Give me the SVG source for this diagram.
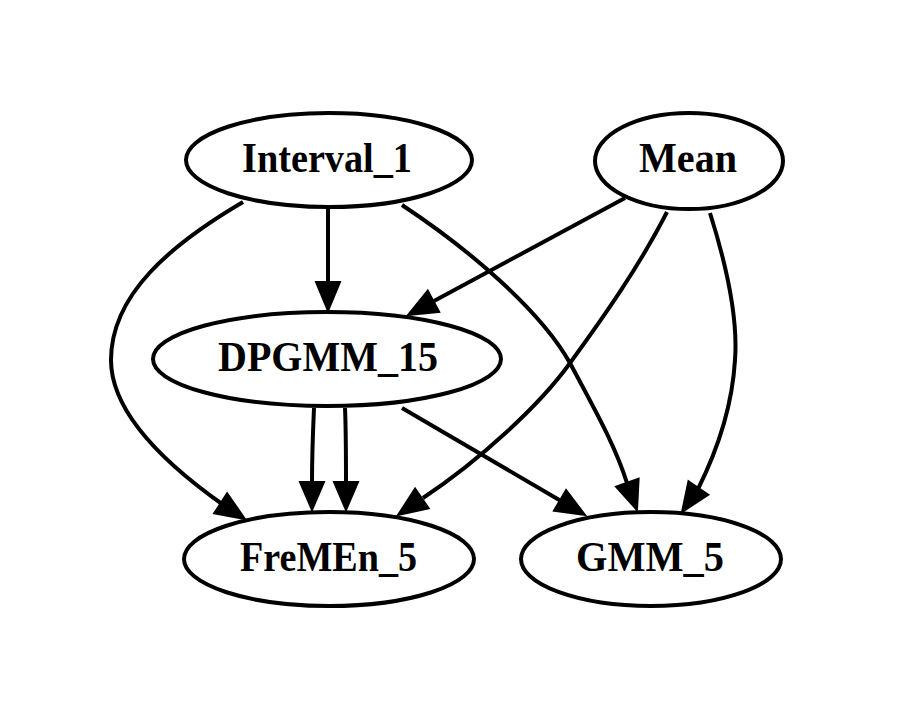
<svg xmlns="http://www.w3.org/2000/svg" width="898" height="723" viewBox="0 0 898 723">
<style>
.node ellipse{fill:#fff;stroke:#000;stroke-width:4}
.node text{font-family:"Liberation Serif","Times New Roman",serif;font-weight:bold;font-size:42px;fill:#000;text-anchor:middle}
.edge path{fill:none;stroke:#000;stroke-width:4}
.edge polygon{fill:#000;stroke:#000;stroke-width:2;stroke-linejoin:miter}
</style>
<rect width="898" height="723" fill="#fff"/>
<g id="connectors">
<g class="edge" id="e_interval_dpgmm">
<path d="M328,209 L328,283"/>
<polygon points="316,282 340,282 328,311"/>
</g>
<g class="edge" id="e_interval_fremen">
<path d="M243,202 C170,245 111,295 111,360 C111,410 160,460 222,504"/>
<polygon points="214.1,513.4 227.1,493.2 245,519"/>
</g>
<g class="edge" id="e_interval_gmm">
<path d="M402,205 C470,250 540,310 570,363 C595,410 615,445 627,483"/>
<polygon points="616,486.7 638.6,478.7 637,510"/>
</g>
<g class="edge" id="e_mean_dpgmm">
<path d="M625,198 L434,301"/>
<polygon points="427.8,290.6 439.2,311.8 408,315"/>
</g>
<g class="edge" id="e_mean_fremen">
<path d="M667,212 C640,265 605,315 570,363 C540,405 480,460 423,498"/>
<polygon points="428.7,508.4 415.1,488.6 398,515"/>
</g>
<g class="edge" id="e_mean_gmm">
<path d="M710,213 C728,270 738,320 735,360 C732,410 715,455 698,489"/>
<polygon points="688.5,481.2 708.3,494.8 682,512"/>
</g>
<g class="edge" id="e_dpgmm_fremen_1">
<path d="M314,408 C313,430 312,460 312,483"/>
<polygon points="300,482 324,482 312,510"/>
</g>
<g class="edge" id="e_dpgmm_fremen_2">
<path d="M345,408 C346,430 346,460 346,483"/>
<polygon points="334,482 358,482 346,510"/>
</g>
<g class="edge" id="e_dpgmm_gmm">
<path d="M402,408 L561,501"/>
<polygon points="553.9,510.8 566.1,490 585,515"/>
</g>
</g>
<g class="node" id="n_interval">
<ellipse cx="329" cy="160" rx="143" ry="47"/>
<text x="327" y="172" textLength="170" lengthAdjust="spacingAndGlyphs">Interval_1</text>
</g>
<g class="node" id="n_mean">
<ellipse cx="689" cy="161" rx="94" ry="48"/>
<text x="688" y="172" textLength="98" lengthAdjust="spacingAndGlyphs">Mean</text>
</g>
<g class="node" id="n_dpgmm">
<ellipse cx="327" cy="359" rx="174" ry="47"/>
<text x="328" y="371" textLength="220" lengthAdjust="spacingAndGlyphs">DPGMM_15</text>
</g>
<g class="node" id="n_fremen">
<ellipse cx="329" cy="559" rx="145" ry="47"/>
<text x="328.5" y="571" textLength="177" lengthAdjust="spacingAndGlyphs">FreMEn_5</text>
</g>
<g class="node" id="n_gmm">
<ellipse cx="651" cy="559" rx="130" ry="47"/>
<text x="650" y="571" textLength="148" lengthAdjust="spacingAndGlyphs">GMM_5</text>
</g>
</svg>
